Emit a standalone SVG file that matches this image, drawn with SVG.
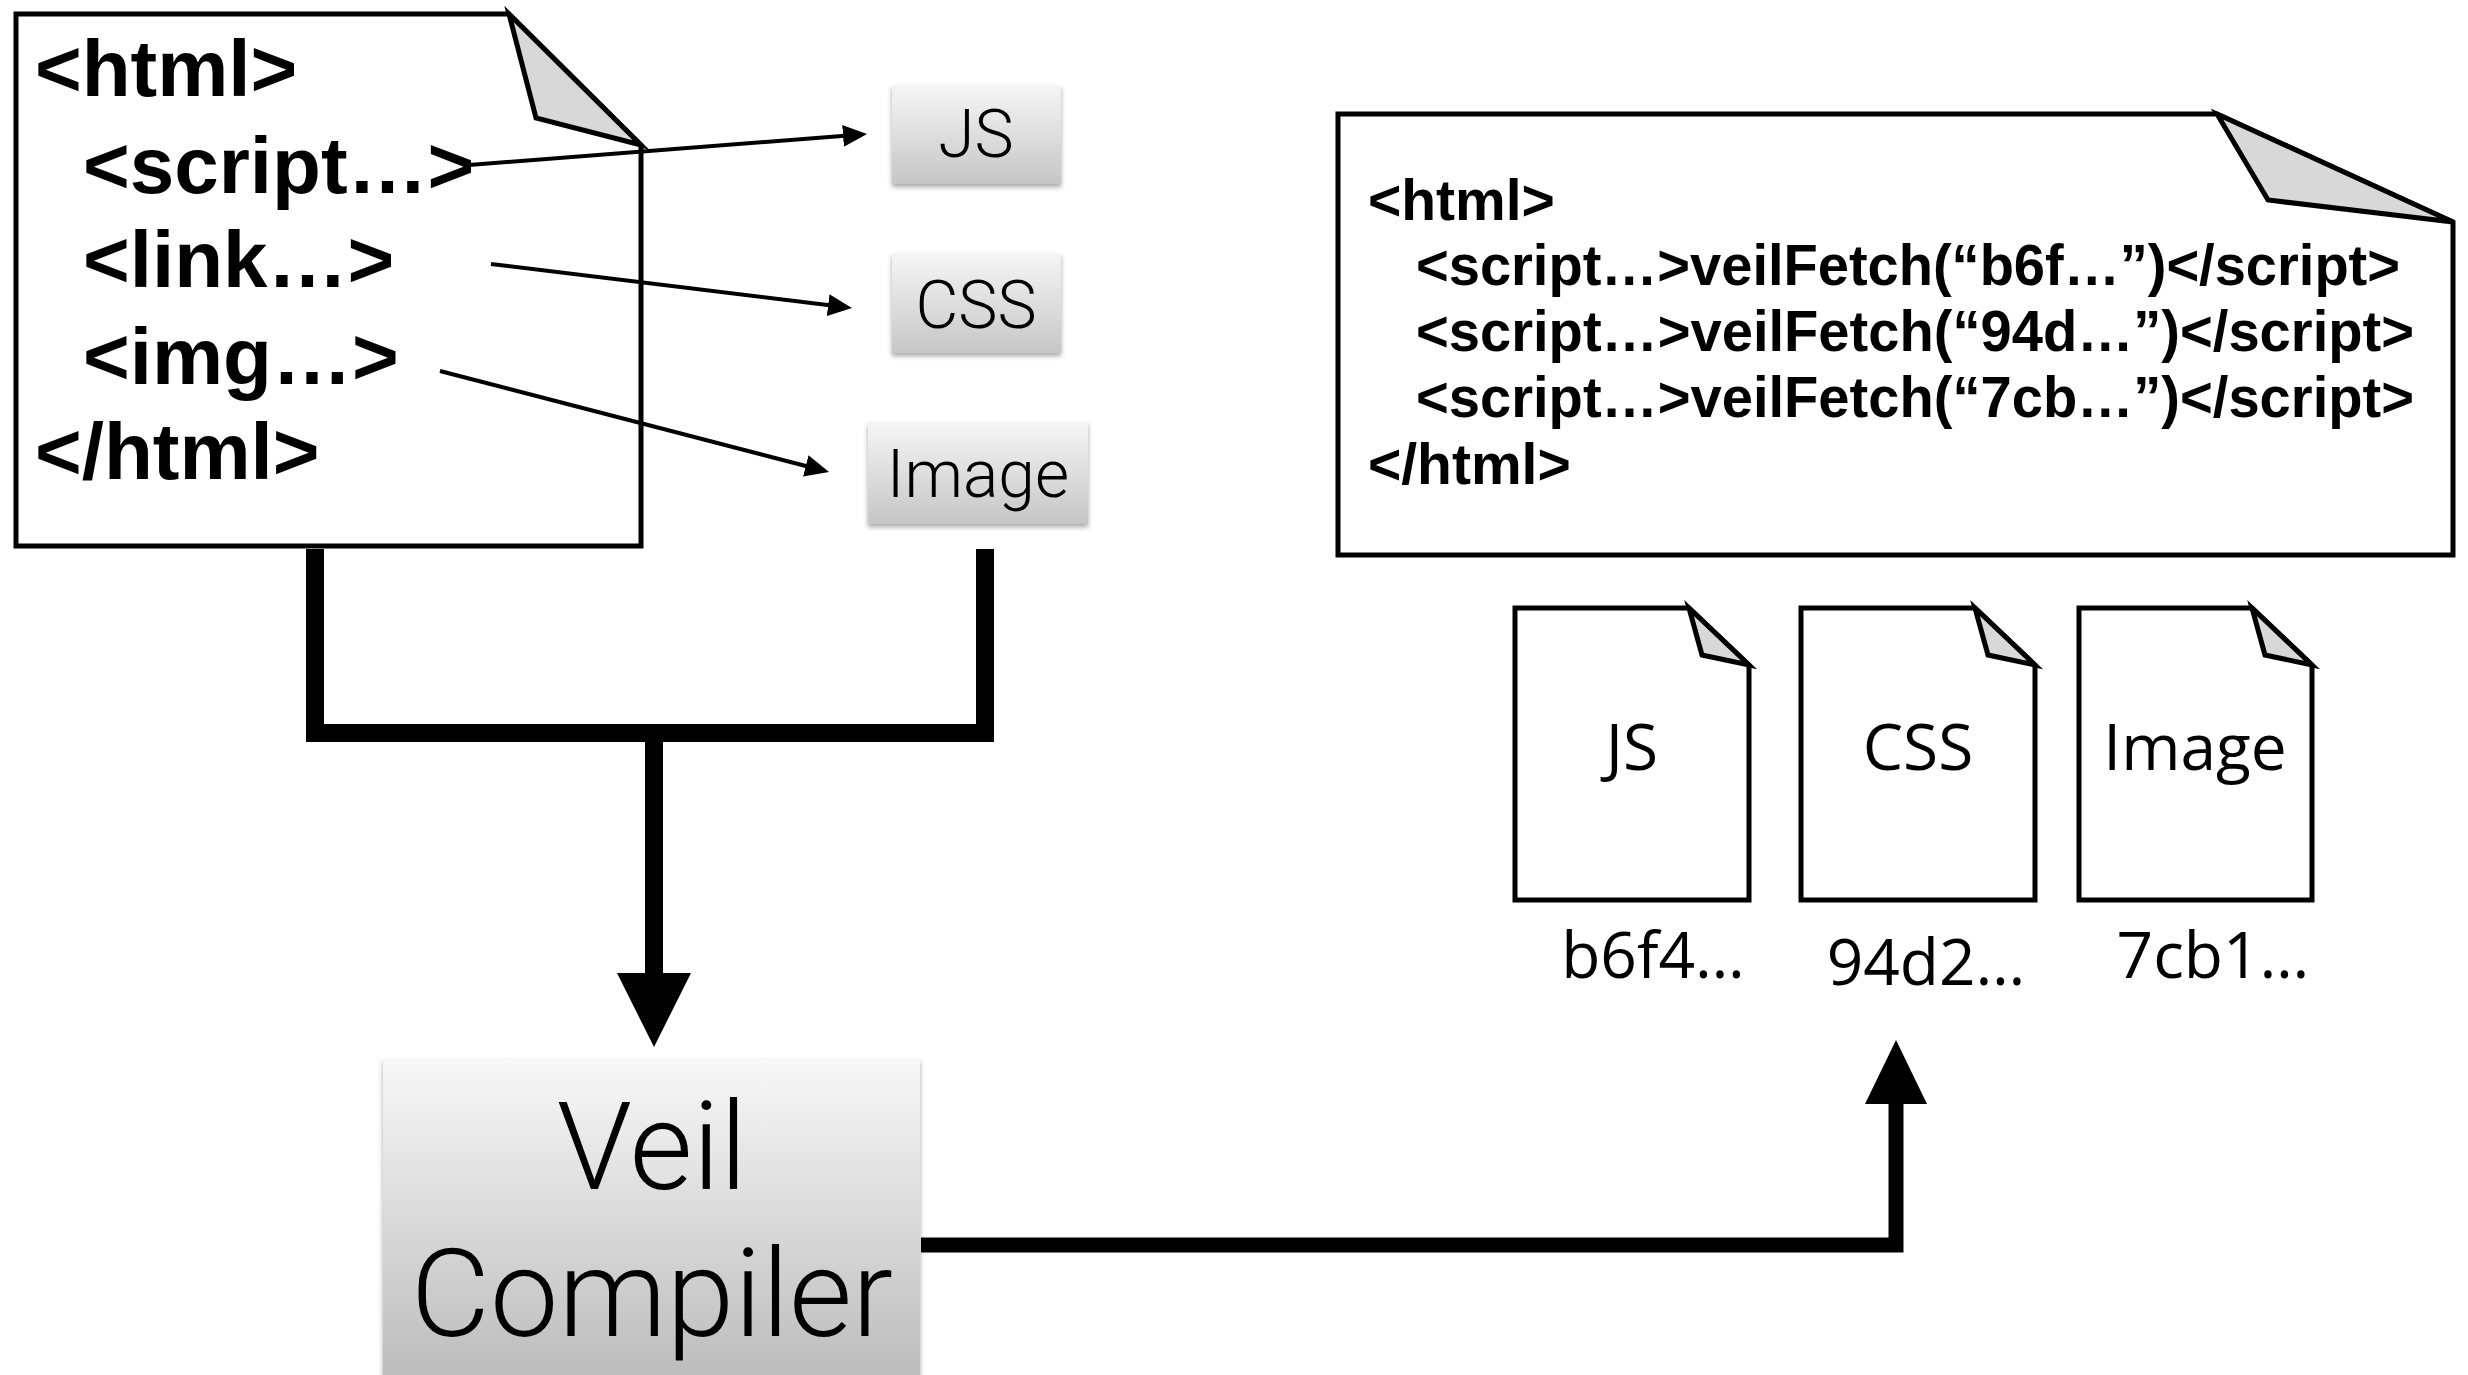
<svg xmlns="http://www.w3.org/2000/svg" width="2468" height="1375" viewBox="0 0 2468 1375">
<style>
.doc{fill:#ffffff;stroke:#000;stroke-width:5;stroke-linejoin:miter}
.flap{fill:#d8d8d8;stroke:#000;stroke-width:5;stroke-linejoin:miter}
.code{font-family:"Liberation Sans",Arial,sans-serif;font-weight:bold;fill:#000}
.light{font-family:Roboto,"Liberation Sans",Arial,sans-serif;font-weight:300;fill:#000;text-anchor:middle}
.file{font-family:"Open Sans","Liberation Sans",sans-serif;font-size:64px;fill:#000;text-anchor:middle}
.thin{fill:none;stroke:#000;stroke-width:4}
.thick{fill:none;stroke:#000;stroke-linejoin:miter;stroke-linecap:butt}
</style>
<defs>
<linearGradient id="g" x1="0" y1="0" x2="0" y2="1">
<stop offset="0" stop-color="#f6f6f6"/>
<stop offset="1" stop-color="#c6c6c6"/>
</linearGradient>
<linearGradient id="g2" x1="0" y1="0" x2="0" y2="1">
<stop offset="0" stop-color="#f8f8f8"/>
<stop offset="1" stop-color="#b8b8b8"/>
</linearGradient>
<filter id="sh" x="-10%" y="-10%" width="120%" height="130%">
<feDropShadow dx="0" dy="3" stdDeviation="2.5" flood-color="#000" flood-opacity="0.35"/>
</filter>
<marker id="ah" markerUnits="userSpaceOnUse" markerWidth="24" markerHeight="22" viewBox="0 0 24 22" refX="18" refY="11" orient="auto">
<path d="M0,0 L24,11 L0,22 Z" fill="#000"/>
</marker>
</defs>

<g id="html-source">
<path class="doc" d="M16,14 H509 L641,145 V546 H16 Z"/>
<polygon class="flap" points="509,14 536,118 641,145"/>
<text class="code" font-size="80" x="35" y="96">&lt;html&gt;</text>
<text class="code" font-size="80" x="83" y="193">&lt;script…&gt;</text>
<text class="code" font-size="80" x="83" y="287">&lt;link…&gt;</text>
<text class="code" font-size="80" x="83" y="384">&lt;img…&gt;</text>
<text class="code" font-size="80" x="35" y="479">&lt;/html&gt;</text>
</g>

<g id="res-js">
<rect x="892" y="85" width="169" height="99" fill="url(#g)" filter="url(#sh)"/>
<text class="light" font-size="66" x="976" y="157">JS</text>
</g>
<g id="res-css">
<rect x="892" y="253" width="169" height="100" fill="url(#g)" filter="url(#sh)"/>
<text class="light" font-size="66" x="976" y="328">CSS</text>
</g>
<g id="res-image">
<rect x="868" y="422" width="220" height="102" fill="url(#g)" filter="url(#sh)"/>
<text class="light" font-size="66" x="978" y="497">Image</text>
</g>

<g id="veil-compiler">
<rect x="383" y="1059" width="537" height="340" fill="url(#g2)" filter="url(#sh)"/>
<text class="light" font-size="122" x="652" y="1189">Veil</text>
<text class="light" font-size="122" x="652" y="1336">Compiler</text>
</g>

<g id="html-output">
<path class="doc" d="M1338,114 H2217 L2453,222 V555 H1338 Z"/>
<polygon class="flap" points="2217,114 2268,200 2453,222"/>
<text class="code" font-size="57" x="1368" y="220">&lt;html&gt;</text>
<text class="code" font-size="57" x="1416" y="285" textLength="984" lengthAdjust="spacingAndGlyphs">&lt;script…&gt;veilFetch(“b6f…”)&lt;/script&gt;</text>
<text class="code" font-size="57" x="1416" y="351" textLength="998" lengthAdjust="spacingAndGlyphs">&lt;script…&gt;veilFetch(“94d…”)&lt;/script&gt;</text>
<text class="code" font-size="57" x="1416" y="417" textLength="998" lengthAdjust="spacingAndGlyphs">&lt;script…&gt;veilFetch(“7cb…”)&lt;/script&gt;</text>
<text class="code" font-size="57" x="1368" y="484">&lt;/html&gt;</text>
</g>

<g id="file-js">
<path class="doc" d="M1515,608 H1689 L1749,665 V900 H1515 Z"/>
<polygon class="flap" points="1689,608 1702,655 1749,665"/>
<text class="file" x="1632" y="770">JS</text>
<text class="file" x="1653" y="978">b6f4…</text>
</g>
<g id="file-css">
<path class="doc" d="M1801,608 H1975 L2035,665 V900 H1801 Z"/>
<polygon class="flap" points="1975,608 1988,655 2035,665"/>
<text class="file" x="1918" y="770">CSS</text>
<text class="file" x="1926" y="985">94d2…</text>
</g>
<g id="file-image">
<path class="doc" d="M2079,608 H2252 L2312,665 V900 H2079 Z"/>
<polygon class="flap" points="2252,608 2265,655 2312,665"/>
<text class="file" x="2195" y="770">Image</text>
<text class="file" x="2213" y="978">7cb1…</text>
</g>

<g id="connectors">
<line class="thin" x1="469" y1="165" x2="861" y2="134.5" marker-end="url(#ah)"/>
<line class="thin" x1="491" y1="264" x2="846" y2="307.3" marker-end="url(#ah)"/>
<line class="thin" x1="440" y1="371" x2="823.2" y2="470.5" marker-end="url(#ah)"/>
<path class="thick" stroke-width="18" d="M315,549 V733 H985 V549"/>
<path class="thick" stroke-width="18" d="M654,733 V976"/>
<polygon points="617,973 691,973 654,1047" fill="#000"/>
<path class="thick" stroke-width="15" d="M921,1245 H1896 V1100"/>
<polygon points="1865,1104 1927,1104 1896,1040" fill="#000"/>
</g>
</svg>
